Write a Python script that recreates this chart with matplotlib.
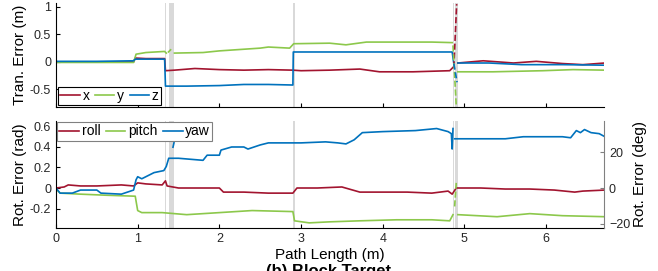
import matplotlib.pyplot as plt
import numpy as np

plt.rcParams['font.family'] = ['Liberation Sans', 'DejaVu Sans']

RED = '#A2142F'
GREEN = '#8CC84B'
BLUE = '#0072BD'
BAND = '#d9d9d9'

# ---- translation error (m) ----
tx_x = [0, 0.3, 0.6, 0.95, 0.97, 1.1, 1.33, 1.34, 1.45, 1.7, 2.0, 2.3, 2.6, 2.9, 3.0, 3.35, 3.72, 3.96, 4.37, 4.82, 4.86]
tx_v = [0.0, 0.0, 0.0, 0.0, 0.07, 0.06, 0.06, -0.16, -0.15, -0.12, -0.14, -0.15, -0.14, -0.15, -0.16, -0.15, -0.13, -0.18, -0.18, -0.16, -0.1]
tx_dash_x = [4.87, 4.905]
tx_dash_v = [-0.1, 1.05]
tx_x2 = [4.92, 5.23, 5.6, 5.88, 6.2, 6.45, 6.72]
tx_v2 = [-0.02, 0.02, -0.02, 0.01, -0.03, -0.05, -0.02]

ty_x = [0, 0.5, 0.95, 0.98, 1.1, 1.33, 1.35]
ty_v = [-0.01, -0.01, -0.01, 0.14, 0.17, 0.19, 0.16]
ty_dash_x = [1.37, 1.41]
ty_dash_v = [0.17, 0.23]
ty_x2 = [1.45, 1.8, 2.0, 2.2, 2.5, 2.6, 2.86, 2.91, 3.35, 3.55, 3.8, 4.2, 4.6, 4.85]
ty_v2 = [0.16, 0.17, 0.2, 0.22, 0.25, 0.27, 0.25, 0.33, 0.34, 0.31, 0.36, 0.36, 0.36, 0.35]
ty_dash2_x = [4.86, 4.9]
ty_dash2_v = [0.3, -0.8]
ty_x3 = [4.92, 5.35, 5.96, 6.33, 6.72]
ty_v3 = [-0.18, -0.18, -0.16, -0.14, -0.15]

tz_x = [0, 0.5, 0.95, 0.97, 1.33, 1.34, 1.6, 2.0, 2.3, 2.6, 2.9, 2.905, 3.3, 4.0, 4.85, 4.87]
tz_v = [0.01, 0.01, 0.02, 0.05, 0.05, -0.44, -0.44, -0.43, -0.41, -0.41, -0.42, 0.18, 0.18, 0.18, 0.18, -0.03]
tz_dash_x = [4.87, 4.91]
tz_dash_v = [-0.03, -0.37]
tz_x2 = [4.92, 5.3, 5.7, 6.2, 6.72]
tz_v2 = [-0.02, -0.02, -0.05, -0.05, -0.06]

# ---- rotation error (rad) ----
roll_x = [0, 0.1, 0.15, 0.3, 0.5, 0.8, 0.95, 1.0, 1.1, 1.3, 1.34, 1.36, 1.5, 1.8, 2.0, 2.05, 2.3, 2.6, 2.9, 2.95,
          3.2, 3.5, 3.72, 4.0, 4.3, 4.6, 4.8, 4.85, 4.9, 5.2, 5.5, 5.8, 6.1, 6.35, 6.45, 6.72]
roll_v = [0.0, 0.01, 0.03, 0.02, 0.02, 0.03, 0.02, 0.05, 0.04, 0.03, 0.07, 0.02, 0.0, 0.0, 0.0, -0.04, -0.04, -0.05, -0.05, 0.0,
          0.0, 0.01, -0.04, -0.04, -0.04, -0.05, -0.03, -0.06, 0.0, 0.0, -0.01, -0.01, -0.02, -0.04, -0.03, -0.02]

pitch_x = [0, 0.05, 0.3, 0.6, 0.97, 1.0, 1.05, 1.3, 1.6, 2.0, 2.4, 2.9, 2.92, 3.1, 3.35, 3.72, 4.17, 4.6, 4.82, 4.86]
pitch_v = [-0.01, -0.05, -0.06, -0.07, -0.08, -0.22, -0.24, -0.24, -0.26, -0.24, -0.22, -0.23, -0.32, -0.34, -0.33, -0.32, -0.31, -0.31, -0.32, -0.26]
pitch_dash_x = [4.88, 4.9]
pitch_dash_v = [-0.18, 0.05]
pitch_x2 = [4.92, 5.4, 5.8, 6.2, 6.72]
pitch_v2 = [-0.26, -0.28, -0.25, -0.27, -0.28]

yaw_x = [0, 0.05, 0.2, 0.3, 0.5, 0.55, 0.8, 0.95, 0.98, 1.0, 1.05, 1.2, 1.32, 1.35, 1.38, 1.5, 1.8, 1.85, 2.0, 2.02,
         2.15, 2.3, 2.35, 2.5, 2.6, 3.0, 3.3, 3.45, 3.55, 3.65, 3.75, 4.0, 4.4, 4.66, 4.8, 4.84, 4.85, 4.86]
yaw_v = [0.0, -0.05, -0.05, -0.02, -0.02, -0.05, -0.06, -0.02, 0.08, 0.11, 0.09, 0.15, 0.17, 0.21, 0.29, 0.29, 0.27, 0.32, 0.32, 0.37,
         0.4, 0.4, 0.38, 0.42, 0.44, 0.44, 0.45, 0.44, 0.43, 0.47, 0.54, 0.55, 0.56, 0.58, 0.55, 0.53, 0.38, 0.58]
yaw_dash_x = [1.43, 1.45]
yaw_dash_v = [0.39, 0.46]
yaw_x2 = [4.88, 5.0, 5.3, 5.5, 5.72, 6.0, 6.2, 6.3, 6.37, 6.42, 6.47, 6.55, 6.65, 6.72]
yaw_v2 = [0.48, 0.48, 0.48, 0.48, 0.50, 0.50, 0.50, 0.49, 0.56, 0.54, 0.57, 0.54, 0.53, 0.5]

# shaded (lost tracking) regions
bands = [(1.335, 1.35), (1.38, 1.45), (2.905, 2.92), (4.855, 4.87), (4.88, 4.92)]

lw = 1.2
fig = plt.figure(figsize=(6.58, 2.71), dpi=100)
ax1 = fig.add_axes([0.0851, 0.605, 0.833, 0.384])
ax2 = fig.add_axes([0.0851, 0.1587, 0.833, 0.395])

for ax in (ax1, ax2):
    for a, b in bands:
        ax.axvspan(a, b, color=BAND, lw=0, zorder=0)

# top panel
ax1.plot(tx_x, tx_v, color=RED, lw=lw, label='x')
ax1.plot(ty_x, ty_v, color=GREEN, lw=lw, label='y')
ax1.plot(tz_x, tz_v, color=BLUE, lw=lw, label='z')
ax1.plot(tx_x2, tx_v2, color=RED, lw=lw)
ax1.plot(ty_x2, ty_v2, color=GREEN, lw=lw)
ax1.plot(ty_x3, ty_v3, color=GREEN, lw=lw)
ax1.plot(tz_x2, tz_v2, color=BLUE, lw=lw)
ax1.plot(tx_dash_x, tx_dash_v, color=RED, lw=lw, ls='--')
ax1.plot(ty_dash_x, ty_dash_v, color=GREEN, lw=lw, ls='--')
ax1.plot(ty_dash2_x, ty_dash2_v, color=GREEN, lw=lw, ls='--')
ax1.plot(tz_dash_x, tz_dash_v, color=BLUE, lw=lw, ls='--')

ax1.set_xlim(0, 6.71)
ax1.set_ylim(-0.82, 1.07)
ax1.set_yticks([-0.5, 0, 0.5, 1])
ax1.set_yticklabels(['-0.5', '0', '0.5', '1'])
ax1.set_xticks(range(0, 7))
ax1.tick_params(labelbottom=False, direction='in', length=3, labelsize=9, labelcolor='#262626')
ax1.spines['top'].set_visible(False)
ax1.spines['right'].set_visible(False)
ax1.set_ylabel('Tran. Error (m)', fontsize=11, labelpad=2)
leg1 = ax1.legend(loc='lower left', ncol=3, fontsize=10, handlelength=1.4, handletextpad=0.2,
                  columnspacing=0.4, borderpad=0.15, borderaxespad=0.15, fancybox=False, framealpha=1)
leg1.get_frame().set_edgecolor('black')
leg1.get_frame().set_linewidth(0.8)

# bottom panel
ax2.plot(roll_x, roll_v, color=RED, lw=lw, label='roll')
ax2.plot(pitch_x, pitch_v, color=GREEN, lw=lw, label='pitch')
ax2.plot(yaw_x, yaw_v, color=BLUE, lw=lw, label='yaw')
ax2.plot(pitch_x2, pitch_v2, color=GREEN, lw=lw)
ax2.plot(yaw_x2, yaw_v2, color=BLUE, lw=lw)
ax2.plot(pitch_dash_x, pitch_dash_v, color=GREEN, lw=lw, ls='--')
ax2.plot(yaw_dash_x, yaw_dash_v, color=BLUE, lw=lw, ls='--')

ax2.set_xlim(0, 6.71)
ax2.set_ylim(-0.39, 0.654)
ax2.set_yticks([-0.2, 0, 0.2, 0.4, 0.6])
ax2.set_yticklabels(['-0.2', '0', '0.2', '0.4', '0.6'])
ax2.set_xticks(range(0, 7))
ax2.tick_params(direction='in', length=3, labelsize=9, labelcolor='#262626')
ax2.spines['top'].set_visible(False)
ax2.spines['right'].set_visible(False)
ax2.set_ylabel('Rot. Error (rad)', fontsize=11, labelpad=2)
ax2.set_xlabel('Path Length (m)', fontsize=11, labelpad=2)
leg2 = ax2.legend(loc='upper left', ncol=3, fontsize=10, handlelength=1.4, handletextpad=0.2,
                  columnspacing=0.4, borderpad=0.15, borderaxespad=0.1, fancybox=False, framealpha=1)
leg2.get_frame().set_edgecolor('#808080')
leg2.get_frame().set_linewidth(0.8)

# right axis in degrees
ax3 = ax2.twinx()
lo, hi = ax2.get_ylim()
ax3.set_ylim(np.degrees(lo), np.degrees(hi))
ax3.set_yticks([-20, 0, 20])
ax3.tick_params(direction='in', length=3, labelsize=9, colors='#808080')
ax3.tick_params(labelcolor='#262626')
for s in ('top', 'left', 'bottom'):
    ax3.spines[s].set_visible(False)
ax3.spines['right'].set_color('#808080')
ax3.set_ylabel('Rot. Error (deg)', fontsize=11, labelpad=2)

fig.text(0.5, 0.024, '(b) Block Target', ha='center', va='top', fontsize=12, fontweight='bold')

fig.savefig('out.png', dpi=100)
